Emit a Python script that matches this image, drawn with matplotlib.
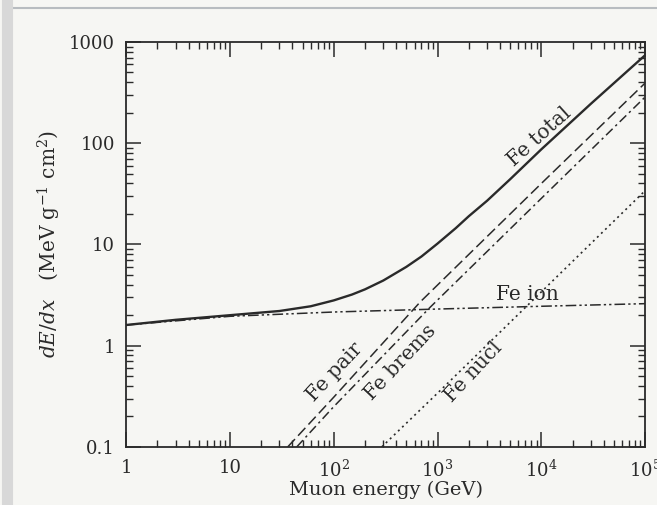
import numpy as np
import matplotlib
matplotlib.use("Agg")
import matplotlib.pyplot as plt
from matplotlib.lines import Line2D

plt.rcParams['font.family'] = ['DejaVu Serif']
plt.rcParams['mathtext.fontset'] = 'dejavuserif'

# Fe total (solid)
total_E = [1, 3, 10, 30, 60, 100, 150, 200, 300, 500, 700, 1000, 1500, 2000,
           3000, 5000, 1e4, 3e4, 1e5]
total_val = [1.6, 1.8, 2.0, 2.2, 2.45, 2.8, 3.2, 3.6, 4.4, 6.0, 7.6, 10.2, 14.5,
             19, 27, 44, 87, 245, 740]

# Fe ion (dash-dot-dot)
ion_E = [1, 10, 100, 1000, 1e4, 1e5]
ion_val = [1.6, 1.95, 2.15, 2.3, 2.45, 2.6]

# Fe pair (dashed)
pair_E = [36, 100, 680, 1e4, 1e5]
pair_val = [0.1, 0.31, 2.7, 40, 393]

# Fe brems (dash-dot)
brems_E = [44, 100, 850, 1e4, 1e5]
brems_val = [0.1, 0.25, 2.4, 28.5, 286]

# Fe nucl (dotted)
nucl_E = [290, 1000, 1e4, 1e5]
nucl_val = [0.1, 0.34, 3.4, 34]

xticks = [1, 10, 100, 1000, 1e4, 1e5]
xticklabels = ["1", "10", "$10^2$", "$10^3$", "$10^4$", "$10^5$"]
yticks = [0.1, 1, 10, 100, 1000]
yticklabels = ["0.1", "1", "10", "100", "1000"]

bg = "#f6f6f3"
ink = "#2a2a2a"

fig = plt.figure(figsize=(6.57, 5.05), dpi=100, facecolor=bg)
ax = fig.add_axes([0.192, 0.115, 0.79, 0.802], facecolor=bg)

ax.plot(total_E, total_val, color=ink, lw=1.7, ls="-")
ax.plot(ion_E, ion_val, color=ink, lw=1.1, ls=(0, (7, 2, 1.5, 2, 1.5, 2)))
ax.plot(pair_E, pair_val, color=ink, lw=1.1, ls=(0, (7, 3)))
ax.plot(brems_E, brems_val, color=ink, lw=1.1, ls=(0, (6, 2.5, 1.5, 2.5)))
ax.plot(nucl_E, nucl_val, color=ink, lw=1.2, ls=(0, (1.2, 2.2)))

ax.set_xscale("log")
ax.set_yscale("log")
ax.set_xlim(1, 1e5)
ax.set_ylim(0.1, 1000)
ax.set_xticks(xticks)
ax.set_xticklabels(xticklabels)
ax.set_yticks(yticks)
ax.set_yticklabels(yticklabels)

ax.tick_params(which="both", direction="in", top=True, right=True, colors=ink,
               labelsize=13)
ax.tick_params(which="major", length=11, width=1.1)
ax.tick_params(which="minor", length=5, width=1.0)
ax.tick_params(axis="x", pad=9)
ax.tick_params(axis="y", pad=8)
for sp in ax.spines.values():
    sp.set_color(ink)
    sp.set_linewidth(1.3)

ax.set_xlabel("Muon energy (GeV)", fontsize=14, color=ink, labelpad=0)
ax.set_ylabel(r"$dE/dx$$\quad$(MeV g$^{-1}$ cm$^2$)", fontsize=14.5, color=ink,
              labelpad=4)

lab = dict(fontsize=14.5, color=ink, ha="center", va="center", rotation_mode="anchor")
ax.text(9500, 115, "Fe total", rotation=42, **lab)
ax.text(7300, 3.2, "Fe ion", rotation=0, **lab)
ax.text(103, 0.55, "Fe pair", rotation=47, **lab)
ax.text(437, 0.69, "Fe brems", rotation=47, **lab)
ax.text(2200, 0.55, "Fe nucl", rotation=47, **lab)

# scan edges
fig.add_artist(Line2D([0.015, 1.0], [0.985, 0.985], transform=fig.transFigure,
                      color="#b8bcc0", lw=1.5))
fig.add_artist(Line2D([0.01, 0.01], [0.0, 1.0], transform=fig.transFigure,
                      color="#d8d8d8", lw=8))

fig.savefig("out.png", dpi=100, facecolor=bg)
